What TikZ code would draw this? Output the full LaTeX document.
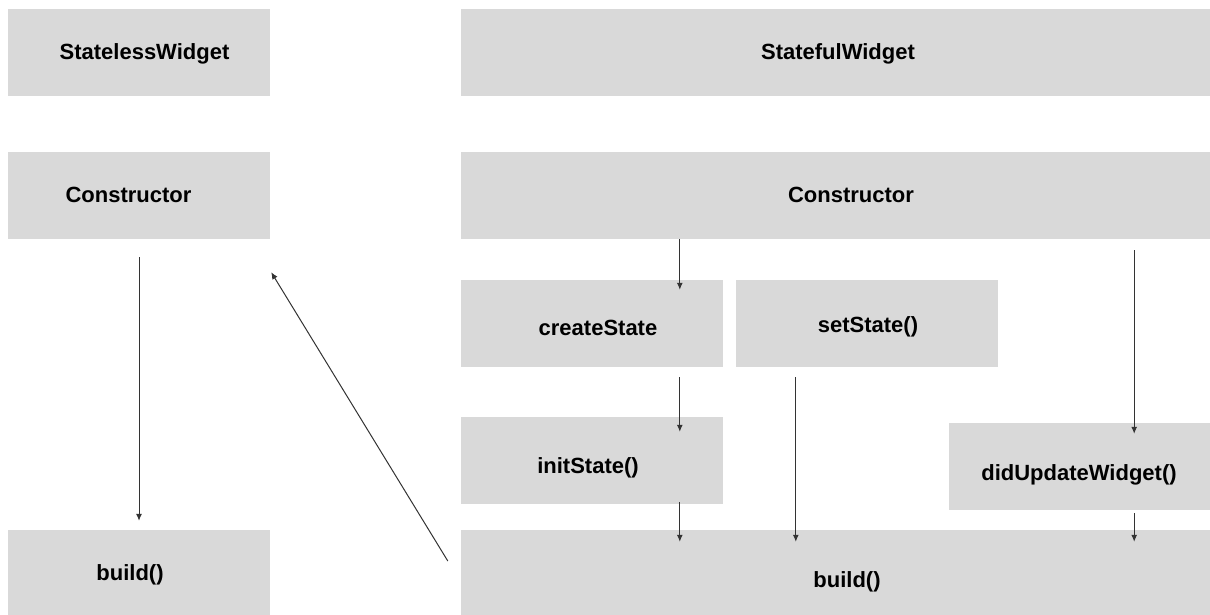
\documentclass[tikz,border=0pt]{standalone}
\usepackage{fontspec}
\setmainfont{Liberation Sans}
\usepackage{tikz}
\usetikzlibrary{arrows.meta,calc}

\definecolor{boxgray}{HTML}{D9D9D9}
\definecolor{linegray}{HTML}{333333}

\tikzset{
	box/.style={fill=boxgray, inner sep=0pt, minimum height=87pt, minimum width=#1},
	box/.default=262pt,
	txt/.style={inner sep=0pt, font=\bfseries\fontsize{22}{26}\selectfont, text height=15.8pt, text depth=0pt},
	arr/.style={draw=linegray, line width=1pt, -{Latex[length=7pt,width=6pt]}}
}

\begin{document}
\begin{tikzpicture}[x=1pt,y=-1pt]
		\useasboundingbox (0,0) rectangle (1210,615);

		% StatelessWidget column
		\node[box] (sl) at (139,52.5) {};
		\node[box] (lc) at (139,195.5) {};
		\node[box] (lb) at (139,573.5) {};
		\node[txt] (slt) at (144.5,52) {StatelessWidget};
		\node[txt] (lct) at (128.5,195) {Constructor};
		\node[txt] (lbt) at (130,573) {build()};

		% StatefulWidget column
		\node[box=749pt] (sf) at (835.5,52.5) {};
		\node[box=749pt] (rc) at (835.5,195.5) {};
		\node[box] (cs) at (592,323.5) {};
		\node[box] (ss) at (867,323.5) {};
		\node[box] (is) at (592,460.5) {};
		\node[box=261pt] (du) at (1079.5,466.5) {};
		\node[box=749pt] (rb) at (835.5,573.5) {};
		\node[txt] (sft) at (838,52) {StatefulWidget};
		\node[txt] (rct) at (851,195) {Constructor};
		\node[txt] (cst) at (598,328) {createState};
		\node[txt] (sst) at (868,325) {setState()};
		\node[txt] (ist) at (588,466) {initState()};
		\node[txt] (dut) at (1079,473) {didUpdateWidget()};
		\node[txt] (rbt) at (847,580) {build()};

		% Arrows
		\coordinate (upd) at ([xshift=-76pt,yshift=-11pt]rc.south east);
		\draw[arr] ([yshift=-18pt]lc.south) -- ([yshift=9pt]lb.north);
		\draw[arr] ([xshift=-13pt,yshift=12.5pt]rb.west) -- ([xshift=1pt,yshift=-33pt]lc.south east);
		\draw[arr] ([xshift=219pt]rc.south west) -- ([xshift=219pt,yshift=-10pt]cs.north west);
		\draw[arr] ([xshift=219pt,yshift=-10pt]cs.south west) -- ([xshift=219pt,yshift=-15pt]is.north west);
		\draw[arr] ([xshift=219pt,yshift=2pt]is.south west) -- ([xshift=219pt,yshift=-12pt]rb.north west);
		\draw[arr] ([xshift=60pt,yshift=-10pt]ss.south west) -- ([xshift=335pt,yshift=-12pt]rb.north west);
		\draw[arr] (upd) -- ([yshift=-11pt]du.north -| upd);
		\draw[arr] ([yshift=-3pt]du.south -| upd) -- ([yshift=-12pt]rb.north -| upd);
	\end{tikzpicture}
\end{document}
